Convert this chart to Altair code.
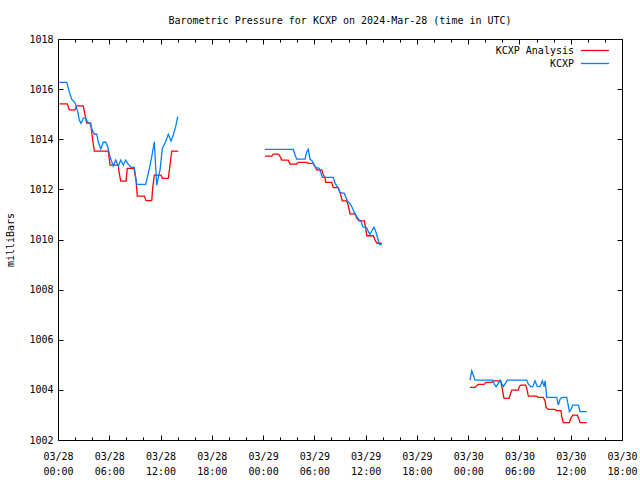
import altair as alt
import pandas as pd

# ---------------- data (hours since 2024-03-28 00:00 UTC, millibars) ----------------
series_names = ["KCXP Analysis", "KCXP"]
series_colors = ["#ff0000", "#0080ff"]

an_h1 = [0.15, 1.09, 1.32, 1.99, 2.19, 2.96, 3.16, 3.36, 3.83, 4.01, 4.25, 5.89, 6.09, 7.06, 7.14, 7.34,
         7.96, 8.11, 8.89, 9.13, 9.28, 10.10, 10.30, 10.97, 11.08, 11.27, 12.05, 12.21, 12.91, 13.11, 13.31, 14.08]
an_p1 = [1015.41, 1015.41, 1015.17, 1015.17, 1015.33, 1015.33, 1014.97, 1014.64, 1014.64, 1014.10, 1013.53,
         1013.53, 1012.97, 1012.97, 1012.70, 1012.33, 1012.33, 1012.84, 1012.84, 1012.37, 1011.73, 1011.73,
         1011.55, 1011.55, 1012.04, 1012.57, 1012.57, 1012.44, 1012.44, 1012.97, 1013.53, 1013.53]
an_h2 = [24.22, 25.01, 25.20, 25.78, 25.98, 26.18, 26.95, 27.15, 27.93, 28.12, 29.11, 29.22, 29.88, 30.08,
         30.27, 30.86, 31.05, 31.25, 31.33, 32.03, 32.22, 32.80, 33.00, 33.27, 33.79, 33.97, 34.17, 34.76,
         34.96, 35.23, 35.85, 36.01, 36.13, 36.90, 37.10, 37.33, 37.88]
an_p2 = [1013.33, 1013.33, 1013.41, 1013.41, 1013.32, 1013.17, 1013.17, 1013.01, 1013.01, 1013.08, 1013.08,
         1013.04, 1013.04, 1012.90, 1012.78, 1012.78, 1012.57, 1012.47, 1012.28, 1012.28, 1012.07, 1012.07,
         1011.88, 1011.54, 1011.54, 1011.35, 1011.02, 1011.02, 1010.85, 1010.74, 1010.74, 1010.45, 1010.15,
         1010.15, 1009.98, 1009.85, 1009.85]
an_h3 = [48.21, 48.80, 49.00, 49.19, 49.70, 49.89, 50.09, 50.75, 50.94, 51.81, 52.04, 52.19, 52.78, 52.90,
         53.10, 53.87, 53.99, 54.18, 54.73, 54.85, 55.04, 56.02, 56.21, 56.79, 56.99, 57.11, 57.38, 58.16,
         58.28, 58.86, 58.95, 59.13, 59.84, 60.04, 60.23, 60.77, 60.94, 61.09, 61.87]
an_p3 = [1004.10, 1004.10, 1004.17, 1004.22, 1004.22, 1004.23, 1004.30, 1004.30, 1004.36, 1004.36, 1003.93,
         1003.66, 1003.66, 1003.79, 1003.99, 1003.99, 1004.13, 1004.19, 1004.19, 1004.06, 1003.75, 1003.75,
         1003.70, 1003.70, 1003.57, 1003.30, 1003.22, 1003.22, 1003.17, 1003.17, 1002.93, 1002.69, 1002.69,
         1002.89, 1002.99, 1002.99, 1002.86, 1002.69, 1002.69]

ob_h1 = [0.15, 1.02, 1.32, 1.60, 1.99, 2.31, 2.49, 2.69, 2.96, 3.24, 3.43, 3.74, 4.01, 4.25, 4.53, 4.72,
         5.00, 5.30, 5.58, 5.82, 6.09, 6.47, 6.75, 7.06, 7.34, 7.64, 7.92, 8.23, 8.54, 8.93, 9.21, 10.26,
         10.57, 10.97, 11.27, 11.55, 11.94, 12.21, 12.52, 12.91, 13.22, 13.49, 13.77, 14.01]
ob_p1 = [1016.27, 1016.27, 1015.90, 1015.60, 1015.45, 1015.10, 1014.77, 1014.64, 1014.84, 1014.86, 1014.70,
         1014.64, 1014.37, 1014.20, 1014.20, 1013.90, 1013.61, 1013.88, 1013.88, 1013.70, 1013.30, 1012.93,
         1013.17, 1012.93, 1013.17, 1012.97, 1013.17, 1013.00, 1012.88, 1012.88, 1012.20, 1012.20, 1012.64,
         1013.30, 1013.90, 1012.17, 1012.77, 1013.64, 1013.84, 1014.20, 1013.93, 1014.17, 1014.50, 1014.90]
ob_h2 = [24.22, 27.54, 27.74, 27.93, 28.91, 29.11, 29.29, 29.49, 29.76, 29.99, 30.16, 30.54, 30.74, 30.93,
         32.22, 32.42, 32.80, 33.00, 33.50, 33.67, 33.90, 34.17, 34.44, 34.68, 34.96, 35.23, 35.46, 35.66,
         36.13, 36.31, 36.51, 36.71, 36.98, 37.21, 37.41, 37.60, 37.88]
ob_p2 = [1013.60, 1013.60, 1013.37, 1013.21, 1013.21, 1013.50, 1013.60, 1013.21, 1013.13, 1012.94, 1012.88,
         1012.84, 1012.68, 1012.48, 1012.48, 1012.24, 1012.04, 1011.88, 1011.84, 1011.71, 1011.51, 1011.44,
         1011.27, 1011.08, 1010.91, 1010.78, 1010.74, 1010.51, 1010.47, 1010.31, 1010.21, 1010.34, 1010.49,
         1010.29, 1010.05, 1009.81, 1009.78]
ob_h3 = [48.21, 48.41, 48.60, 48.80, 50.87, 51.06, 51.26, 51.53, 51.73, 51.92, 52.11, 52.39, 52.58, 54.85,
         55.04, 55.32, 55.55, 55.82, 56.09, 56.41, 56.68, 56.88, 57.00, 57.19, 58.36, 58.55, 58.75, 58.95,
         59.53, 59.72, 59.84, 60.04, 60.23, 60.89, 61.09, 61.87]
ob_p3 = [1004.39, 1004.76, 1004.59, 1004.39, 1004.39, 1004.23, 1004.13, 1004.26, 1004.39, 1004.26, 1004.13,
         1004.28, 1004.39, 1004.39, 1004.23, 1004.13, 1004.13, 1004.36, 1004.13, 1004.13, 1004.36, 1004.13,
         1004.36, 1003.70, 1003.70, 1003.39, 1003.62, 1003.70, 1003.70, 1003.36, 1003.13, 1003.22, 1003.39,
         1003.39, 1003.13, 1003.13]

x_major = list(range(0, 67, 6))
x_minor = [v for v in range(0, 67, 2) if v % 6]
y_major = list(range(1002, 1019, 2))

# ---------------- table ----------------
rows = []
for name, segs in [
    (series_names[0], [(an_h1, an_p1), (an_h2, an_p2), (an_h3, an_p3)]),
    (series_names[1], [(ob_h1, ob_p1), (ob_h2, ob_p2), (ob_h3, ob_p3)]),
]:
    for k, (hs, ps) in enumerate(segs):
        for h, p in zip(hs, ps):
            rows.append({"series": name, "seg": k, "h": h, "p": p})
df = pd.DataFrame(rows)

FONT = "DejaVu Sans Mono"
W, H = 564, 401
xs = alt.Scale(domain=[0, 66], nice=False, zero=False)
ys = alt.Scale(domain=[1002, 1018], nice=False, zero=False)

label_expr = ("['03/' + (28 + floor(datum.value / 24)), "
              "(datum.value % 24 < 10 ? '0' : '') + (datum.value % 24) + ':00']")

x_labels = alt.Axis(values=x_major, labelExpr=label_expr, ticks=False, tickSize=0, domain=False, grid=False,
                    labelPadding=11, labelLineHeight=15, labelFont=FONT, labelFontSize=10, labelColor="black",
                    labelFlush=False, labelOverlap=False, title=None, orient="bottom")
y_labels = alt.Axis(values=y_major, format="d", ticks=False, tickSize=0, domain=False, grid=False,
                    labelPadding=5, labelFont=FONT, labelFontSize=10, labelColor="black", labelFlush=False,
                    labelOverlap=False,
                    title="milliBars", titleFont=FONT, titleFontSize=10, titleFontWeight="normal",
                    titleColor="black", titleX=-48, titleY=H / 2, titleAngle=270, titleAlign="center",
                    titleBaseline="middle", orient="left")


def tick_axis(orient, offset, values, size):
    return alt.Axis(orient=orient, offset=offset, values=values, labels=False, domain=False, grid=False,
                    ticks=True, tickSize=size, tickColor="black", tickWidth=1, title=None)


def line_layer(name, color, xaxis, yaxis, opacity=1.0):
    return alt.Chart(df).transform_filter(alt.datum.series == name).mark_line(
        color=color, strokeWidth=1.3, strokeOpacity=opacity, interpolate="linear"
    ).encode(
        x=alt.X("h:Q", scale=xs, axis=xaxis),
        y=alt.Y("p:Q", scale=ys, axis=yaxis),
        detail="seg:N",
    )


red = line_layer(series_names[0], series_colors[0], x_labels, y_labels)
blue = line_layer(series_names[1], series_colors[1],
                  tick_axis("top", -H, x_major, 5), tick_axis("right", -W, y_major, 5))
ax3 = line_layer(series_names[1], series_colors[1],
                 tick_axis("bottom", -H, x_major, 5), tick_axis("left", -W, y_major, 5), opacity=0)
ax4 = line_layer(series_names[1], series_colors[1],
                 tick_axis("top", -H, x_minor, 3), None, opacity=0)
ax5 = line_layer(series_names[1], series_colors[1],
                 tick_axis("bottom", -H, x_minor, 3), None, opacity=0)

legend_layers = []
for i, (name, color) in enumerate(zip(series_names, series_colors)):
    ldf = pd.DataFrame({"label": [name]})
    legend_layers.append(
        alt.Chart(ldf).mark_text(align="right", baseline="middle", font=FONT, fontSize=10, color="black")
        .encode(text="label:N", x=alt.value(516), y=alt.value(11.5 + 13 * i))
    )
    legend_layers.append(
        alt.Chart(ldf).mark_rule(color=color, strokeWidth=1.3)
        .encode(x=alt.value(523), x2=alt.value(551), y=alt.value(11.5 + 13 * i))
    )

chart = alt.layer(red, blue, ax3, ax4, ax5, *legend_layers).resolve_axis(
    x="independent", y="independent"
).properties(
    width=W, height=H,
    title=alt.TitleParams(text="Barometric Pressure for KCXP on 2024-Mar-28 (time in UTC)", font=FONT,
                          fontSize=10, fontWeight="normal", color="black", anchor="middle", offset=8),
    autosize=alt.AutoSizeParams(type="none"),
    padding={"left": 58, "top": 39, "right": 18, "bottom": 40},
    background="white",
).configure_view(stroke="black", strokeWidth=1)

chart.save("out.html", embed_options={"renderer": "svg", "actions": False})
